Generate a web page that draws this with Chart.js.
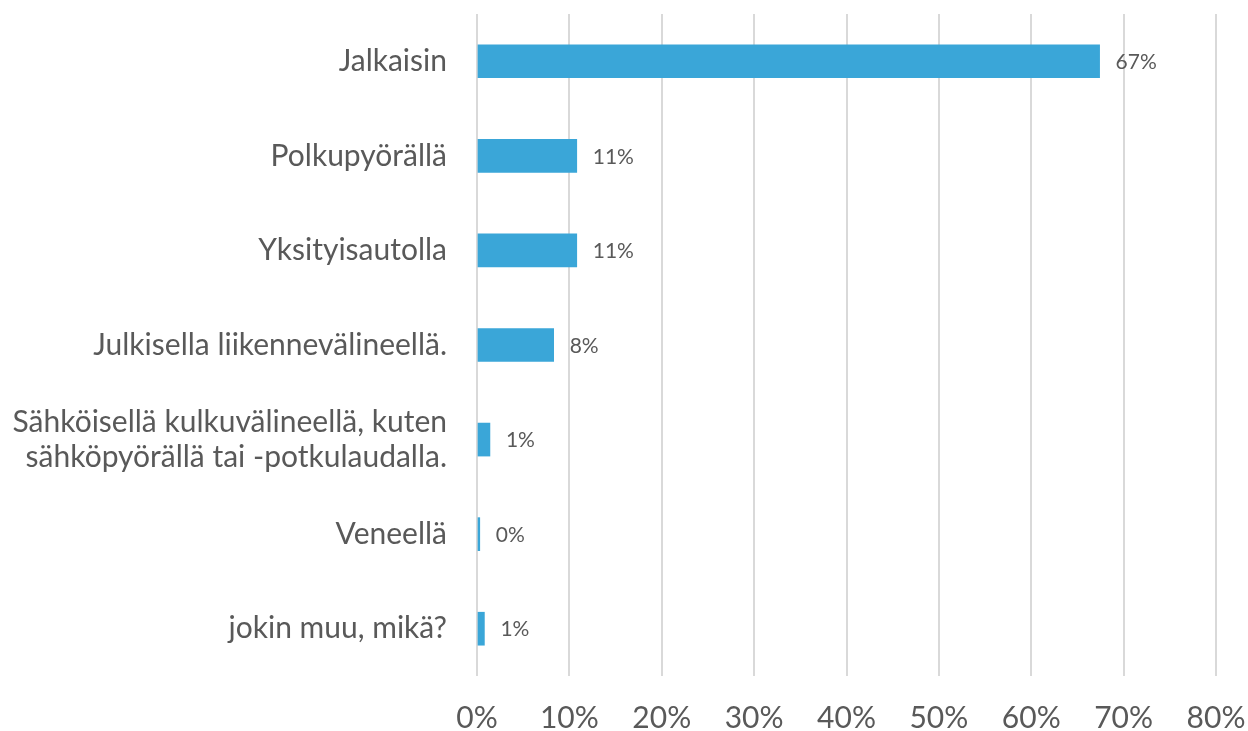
<!DOCTYPE html>
<html>
<head>
<meta charset="utf-8">
<script src="https://cdn.jsdelivr.net/npm/chart.js@4"></script>
<style>
  html, body { margin: 0; padding: 0; background: #fff; }
  #wrap { width: 1248px; height: 731px; }
</style>
</head>
<body>
<div id="wrap"><canvas id="travelChart" width="1248" height="731"></canvas></div>
<script>
// Kulkutapa (osuus vastaajista, %)
const categories = [
    'Jalkaisin',
    'Polkupyörällä',
    'Yksityisautolla',
    'Julkisella liikennevälineellä.',
    ['Sähköisellä kulkuvälineellä, kuten', 'sähköpyörällä tai -potkulaudalla.'],
    'Veneellä',
    'jokin muu, mikä?'
];
const shares = [67.4, 10.8, 10.8, 8.3, 1.4, 0.3, 0.8];
const shareLabels = ['67%', '11%', '11%', '8%', '1%', '0%', '1%'];

const FONT = 'Lato, "Open Sans", sans-serif';
const GREY = '#595959';

// draws the value labels next to each bar
const valueLabels = {
    id: 'valueLabels',
    afterDatasetsDraw(chart) {
        const ctx = chart.ctx;
        const meta = chart.getDatasetMeta(0);
        ctx.save();
        ctx.font = '21px ' + FONT;
        ctx.fillStyle = GREY;
        ctx.textAlign = 'left';
        ctx.textBaseline = 'middle';
        meta.data.forEach((bar, i) => {
            ctx.fillText(shareLabels[i], bar.x + 16, bar.y + 1);
        });
        ctx.restore();
    }
};

const travelCtx = document.getElementById('travelChart').getContext('2d');
const travelChart = new Chart(travelCtx, {
    type: 'bar',
    data: {
        labels: categories,
        datasets: [{
            data: shares,
            backgroundColor: '#3aa6d8',
            barThickness: 33
        }]
    },
    options: {
        indexAxis: 'y',
        responsive: false,
        animation: false,
        layout: { padding: { top: 14, right: 32, bottom: 0, left: 0 } },
        plugins: {
            legend: { display: false },
            tooltip: { enabled: false }
        },
        scales: {
            x: {
                min: 0,
                max: 80,
                ticks: {
                    stepSize: 10,
                    color: GREY,
                    font: { family: FONT, size: 30 },
                    padding: 24,
                    callback: v => v + '%'
                },
                grid: { color: '#d9d9d9', lineWidth: 2, drawTicks: false },
                border: { display: false },
                afterFit: axis => {
                    axis.height = 55;
                    axis.paddingLeft = 0;
                    axis.paddingRight = 0;
                }
            },
            y: {
                ticks: {
                    color: GREY,
                    font: { family: FONT, size: 30, lineHeight: 1.17 },
                    padding: 30
                },
                grid: { display: false, drawTicks: false },
                border: { display: false },
                afterFit: axis => {
                    axis.width = 477;
                    axis.paddingTop = 0;
                    axis.paddingBottom = 0;
                }
            }
        }
    },
    plugins: [valueLabels]
});
</script>
</body>
</html>
